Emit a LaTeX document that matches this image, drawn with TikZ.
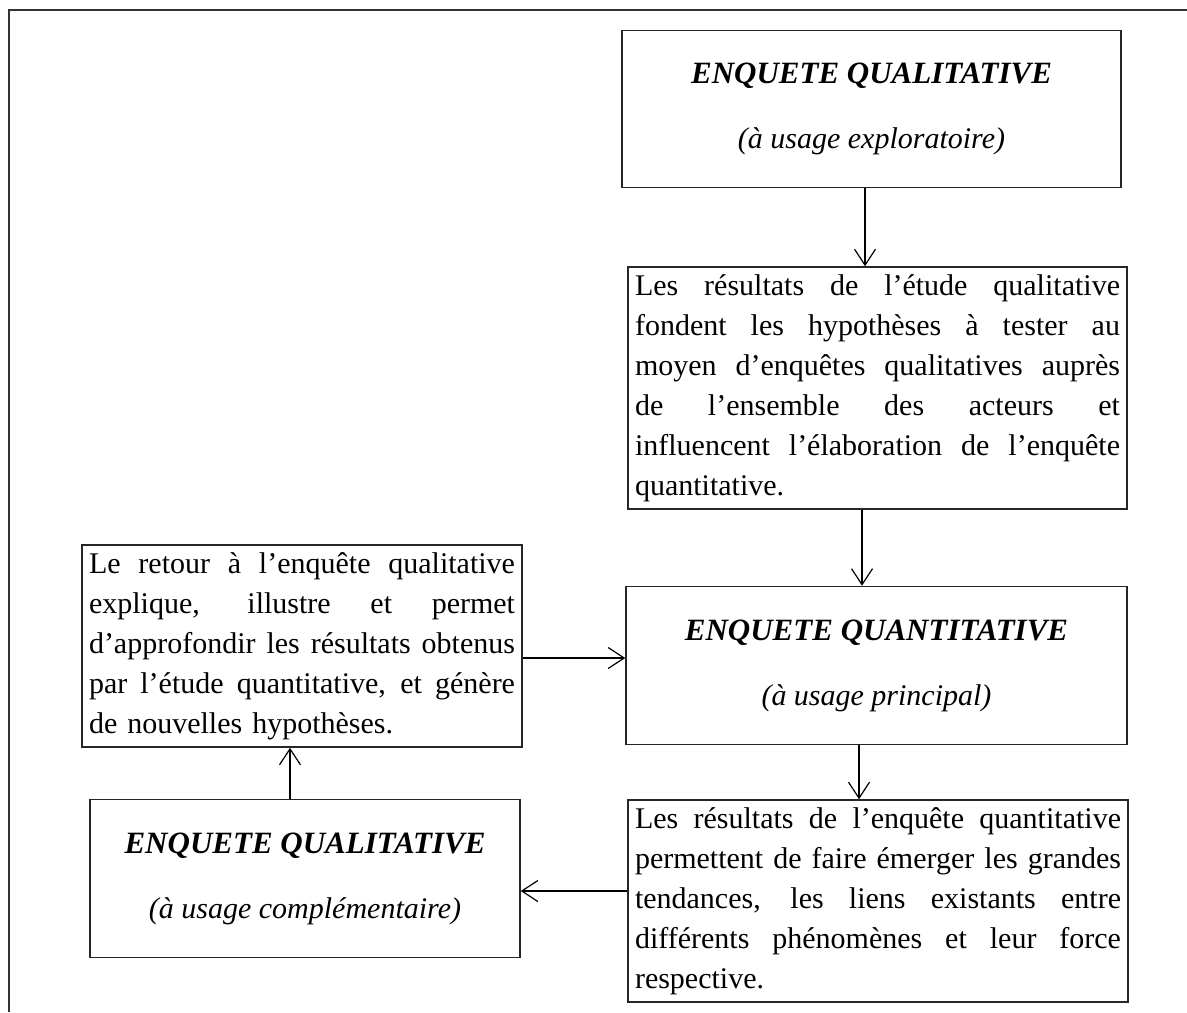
\documentclass[tikz,border=0pt]{standalone}
\usepackage{fontspec}
\setmainfont{Liberation Serif}
\usetikzlibrary{arrows.meta}
\newcommand{\jl}[1]{\noindent\hbox to \hsize{\spaceskip=0.25em plus 3em minus 0.05em\relax #1}\\}
\begin{document}
\begin{tikzpicture}[x=0.5pt,y=-0.5pt,
  frame/.style={draw=black!80, line width=0.8pt},
  txtbox/.style={draw=black!85, line width=0.75pt, inner xsep=3.5pt, inner ysep=0pt,
    align=left, font=\fontsize{15}{20}\selectfont},
  titlebox/.style={draw=black!85, line width=0.75pt, inner sep=0pt,
    align=center, font=\fontsize{15}{20}\selectfont},
  arr/.style={draw=black, line width=0.6pt, -{Straight Barb[length=8pt,width=10.5pt,line width=0.6pt]}}
]
\useasboundingbox (0,0) rectangle (1187,1012);
\draw[frame] (9,1012) -- (9,10) -- (1187,10);

% top qualitative box
\node[titlebox, minimum width=249.5pt, minimum height=78.5pt] (B1) at (871.5,109)
  {{\bfseries\itshape\fontsize{15.5}{20}\selectfont ENQUETE QUALITATIVE}\\[12.5pt]{\itshape (à usage exploratoire)}};

% results of qualitative study
\node[txtbox, text width=242.5pt, minimum height=121pt] (B2) at (877.5,388) {%
\jl{Les résultats de l’étude qualitative}%
\jl{fondent les hypothèses à tester au}%
\jl{moyen d’enquêtes qualitatives auprès}%
\jl{de l’ensemble des acteurs et}%
\jl{influencent l’élaboration de l’enquête}%
quantitative.};

% quantitative box
\node[titlebox, minimum width=250.5pt, minimum height=79pt] (B3) at (876.5,665.5)
  {{\bfseries\itshape\fontsize{15.5}{20}\selectfont ENQUETE QUANTITATIVE}\\[12.5pt]{\itshape (à usage principal)}};

% results of quantitative study
\node[txtbox, text width=243pt, minimum height=101pt] (B4) at (878,901) {%
\jl{Les résultats de l’enquête quantitative}%
\jl{permettent de faire émerger les grandes}%
\jl{tendances, les liens existants entre}%
\jl{différents phénomènes et leur force}%
respective.};

% complementary qualitative box
\node[titlebox, minimum width=215pt, minimum height=79pt] (B5) at (305,878.5)
  {{\bfseries\itshape\fontsize{15.5}{20}\selectfont ENQUETE QUALITATIVE}\\[12.5pt]{\itshape (à usage complémentaire)}};

% return to qualitative
\node[txtbox, text width=213pt, minimum height=101pt] (B6) at (302,646) {%
\jl{Le retour à l’enquête qualitative}%
\jl{explique, illustre et permet}%
\jl{d’approfondir les résultats obtenus}%
\jl{par l’étude quantitative, et génère}%
de nouvelles hypothèses.};

\coordinate (c12) at (865,0);
\coordinate (c23) at (862,0);
\coordinate (c34) at (859,0);
\coordinate (c45) at (0,891);
\coordinate (c56) at (290,0);
\coordinate (c63) at (0,658);

\draw[arr] (B1.south -| c12) -- (B2.north -| c12);
\draw[arr] (B2.south -| c23) -- (B3.north -| c23);
\draw[arr] (B3.south -| c34) -- (B4.north -| c34);
\draw[arr] (B4.west |- c45) -- (B5.east |- c45);
\draw[arr] (B5.north -| c56) -- (B6.south -| c56);
\draw[arr] (B6.east |- c63) -- (B3.west |- c63);
\end{tikzpicture}
\end{document}
